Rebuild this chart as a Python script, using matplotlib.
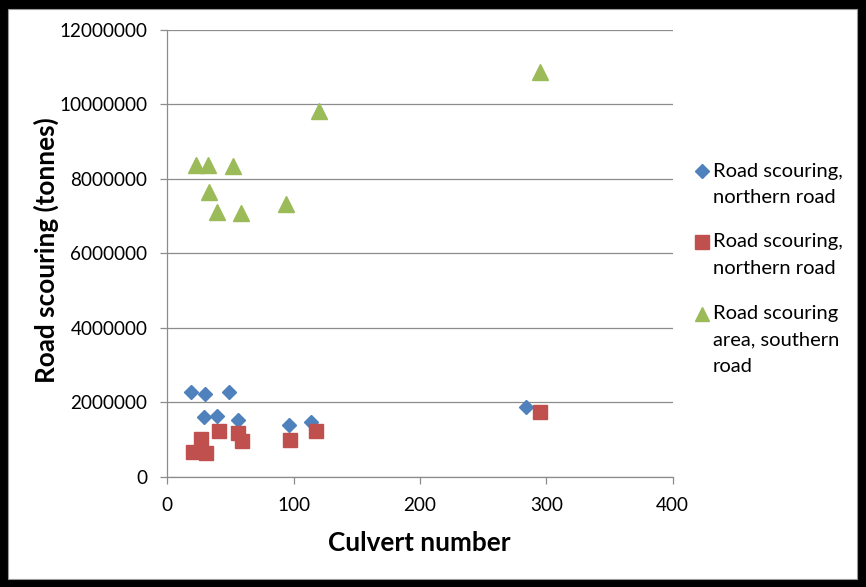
import matplotlib
matplotlib.use("Agg")
import matplotlib.pyplot as plt
from matplotlib.lines import Line2D
from matplotlib.patches import Rectangle

plt.rcParams['font.family'] = ['Lato', 'DejaVu Sans']

# culvert number vs road scouring (tonnes)
north_x = [19, 29, 30, 39, 49, 56, 96, 114, 284]
north_y = [2270000, 1610000, 2220000, 1640000, 2270000, 1520000, 1390000, 1470000, 1880000]

north2_x = [20, 27, 31, 41, 56, 59, 97, 118, 295]
north2_y = [655000, 1010000, 630000, 1230000, 1180000, 960000, 990000, 1230000, 1730000]

south_x = [23, 32, 33, 39, 52, 58, 94, 120, 295]
south_y = [8370000, 8370000, 7640000, 7120000, 8350000, 7080000, 7330000, 9830000, 10880000]

labels = ["Road scouring,\nnorthern road",
          "Road scouring,\nnorthern road",
          "Road scouring\narea, southern\nroad"]

BLUE = '#4F81BD'
RED = '#C0504D'
GREEN = '#9BBB59'
GRID = '#8c8c8c'

fig = plt.figure(figsize=(8.66, 5.87), dpi=100)
fig.patch.set_facecolor('black')
fig.add_artist(Rectangle((8 / 866, 8 / 587), 849 / 866, 570 / 587,
                         transform=fig.transFigure, facecolor='white',
                         edgecolor='#9a9a9a', lw=0.8, zorder=0))

ax = fig.add_axes([167.3 / 866, 110.3 / 587, 505.4 / 866, 446.7 / 587])
ax.set_facecolor('none')

ax.plot(north_x, north_y, ls='none', marker='D', ms=7.6, color=BLUE, mec=BLUE, zorder=3)
ax.plot(north2_x, north2_y, ls='none', marker='s', ms=10.5, color=RED, mec=RED, zorder=3)
ax.plot(south_x, south_y, ls='none', marker='^', ms=11, color=GREEN, mec=GREEN, zorder=3)

ax.set_xlim(0, 400)
ax.set_ylim(0, 12000000)
ax.set_xticks(range(0, 401, 100))
ax.set_yticks(range(0, 12000001, 2000000))
ax.set_yticklabels([str(v) for v in range(0, 12000001, 2000000)])

ax.yaxis.grid(True, color=GRID, lw=0.9)
ax.set_axisbelow(True)
for side in ('top', 'right'):
    ax.spines[side].set_visible(False)
for side in ('left', 'bottom'):
    ax.spines[side].set_color(GRID)
    ax.spines[side].set_linewidth(0.9)
ax.tick_params(axis='both', colors=GRID, length=5, width=0.9, labelcolor='black', labelsize=13.6)
ax.tick_params(axis='y', pad=9.4)
ax.tick_params(axis='x', pad=9.5)

fig.text(419.5 / 866, 1 - 550.7 / 587, "Culvert number", ha='center', va='baseline',
         fontsize=18.8, fontweight='bold')
fig.text(46 / 866, 1 - 250 / 587, "Road scouring (tonnes)", ha='center', va='center',
         rotation=90, fontsize=18.8, fontweight='bold')

# legend, marker beside the first line of each entry
line_step = 26.7
entries = [(BLUE, 'D', 7.0, 176.7), (RED, 's', 10.0, 247.3), (GREEN, '^', 10.0, 319.0)]
for (col, mk, ms, base), lab in zip(entries, labels):
    fig.add_artist(Line2D([701.5 / 866], [1 - (base - 5.5) / 587], transform=fig.transFigure,
                          ls='none', marker=mk, ms=ms, color=col, mec=col))
    for i, part in enumerate(lab.split('\n')):
        fig.text(713 / 866, 1 - (base + i * line_step) / 587, part, ha='left', va='baseline',
                 fontsize=14.5)

fig.savefig("out.png", dpi=100, facecolor=fig.get_facecolor())
